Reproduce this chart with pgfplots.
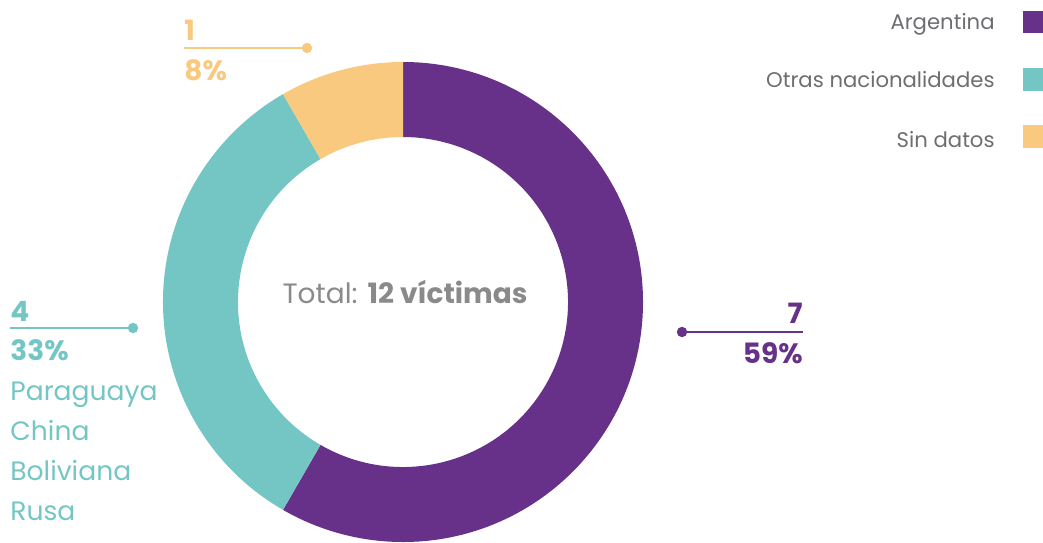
\documentclass[border=0pt]{standalone}
\usepackage{pgfplots}
\usepackage{pgfplotstable}
\pgfplotsset{compat=1.18}
\usepackage{fontspec}
\setmainfont{Poppins}
\definecolor{cpurple}{HTML}{673089}
\definecolor{cteal}{HTML}{74C6C5}
\definecolor{cyellow}{HTML}{F8C97E}
\definecolor{cgray}{HTML}{6D6E71}
\definecolor{cgraytwo}{HTML}{8A8A8A}

\pgfplotstableread{
label value
Argentina 7
Otras 4
SinDatos 1
}\datatable

\begin{document}
\begin{tikzpicture}
\pgfplotstablegetelem{0}{value}\of\datatable \pgfmathsetmacro\va{\pgfplotsretval}
\pgfplotstablegetelem{1}{value}\of\datatable \pgfmathsetmacro\vb{\pgfplotsretval}
\pgfplotstablegetelem{2}{value}\of\datatable \pgfmathsetmacro\vc{\pgfplotsretval}
\pgfmathsetmacro\tot{\va+\vb+\vc}
\pgfmathsetmacro\aA{90-360*\va/\tot}
\pgfmathsetmacro\aB{\aA-360*\vb/\tot}
\pgfmathsetmacro\aC{\aB-360*\vc/\tot}
\begin{axis}[hide axis, scale only axis, width=521.5pt, height=271pt,
  xmin=0, xmax=1043, ymin=0, ymax=542, y dir=reverse, clip=false]
\path (axis cs:0,0) rectangle (axis cs:1043,542);
\coordinate (c) at (axis cs:403,302);
% donut segments
\fill[cpurple] (c) ++(90:120pt) arc[start angle=90, end angle=\aA, radius=120pt]
  -- ++(\aA:-37.5pt) arc[start angle=\aA, end angle=90, radius=82.5pt] -- cycle;
\fill[cteal] (c) ++(\aA:120pt) arc[start angle=\aA, end angle=\aB, radius=120pt]
  -- ++(\aB:-37.5pt) arc[start angle=\aB, end angle=\aA, radius=82.5pt] -- cycle;
\fill[cyellow] (c) ++(\aB:120pt) arc[start angle=\aB, end angle=\aC, radius=120pt]
  -- ++(\aC:-37.5pt) arc[start angle=\aC, end angle=\aB, radius=82.5pt] -- cycle;
% center text
\node[anchor=base, text=cgraytwo, font=\fontsize{14}{16}\selectfont, inner sep=0pt] at (axis cs:405,303) {Total: \textbf{12 víctimas}};
% yellow label
\node[anchor=base west, text=cyellow, font=\fontsize{14}{16}\selectfont\bfseries, inner sep=0pt] at (axis cs:184,40) {1};
\draw[cyellow, line width=0.8pt] (axis cs:184,48) -- (axis cs:307,48);
\fill[cyellow] (axis cs:307,48) circle[radius=2.6pt];
\node[anchor=base west, text=cyellow, font=\fontsize{14}{16}\selectfont\bfseries, inner sep=0pt] at (axis cs:184,80) {8\%};
% teal label
\node[anchor=base west, text=cteal, font=\fontsize{14}{16}\selectfont\bfseries, inner sep=0pt] at (axis cs:10,321) {4};
\draw[cteal, line width=0.8pt] (axis cs:10,328) -- (axis cs:133,328);
\fill[cteal] (axis cs:133,328) circle[radius=2.6pt];
\node[anchor=base west, text=cteal, font=\fontsize{14}{16}\selectfont\bfseries, inner sep=0pt] at (axis cs:10,360) {33\%};
\node[anchor=base west, text=cteal, font=\fontsize{13.3}{16}\selectfont, inner sep=0pt] at (axis cs:10,400) {Paraguaya};
\node[anchor=base west, text=cteal, font=\fontsize{13.3}{16}\selectfont, inner sep=0pt] at (axis cs:10,440) {China};
\node[anchor=base west, text=cteal, font=\fontsize{13.3}{16}\selectfont, inner sep=0pt] at (axis cs:10,480) {Boliviana};
\node[anchor=base west, text=cteal, font=\fontsize{13.3}{16}\selectfont, inner sep=0pt] at (axis cs:10,520) {Rusa};
% purple label
\node[anchor=base east, text=cpurple, font=\fontsize{14}{16}\selectfont\bfseries, inner sep=0pt] at (axis cs:803,323) {7};
\draw[cpurple, line width=0.8pt] (axis cs:682,332) -- (axis cs:803,332);
\fill[cpurple] (axis cs:682,332) circle[radius=2.6pt];
\node[anchor=base east, text=cpurple, font=\fontsize{14}{16}\selectfont\bfseries, inner sep=0pt] at (axis cs:803,363) {59\%};
% legend
\fill[cpurple] (axis cs:1023,11) rectangle (axis cs:1043,33);
\fill[cteal] (axis cs:1023,68) rectangle (axis cs:1043,91);
\fill[cyellow] (axis cs:1023,125) rectangle (axis cs:1043,148);
\node[anchor=base east, text=cgray, font=\fontsize{10.6}{13}\selectfont, inner sep=0pt] at (axis cs:995,29) {Argentina};
\node[anchor=base east, text=cgray, font=\fontsize{10.6}{13}\selectfont, inner sep=0pt] at (axis cs:995,87) {Otras nacionalidades};
\node[anchor=base east, text=cgray, font=\fontsize{10.6}{13}\selectfont, inner sep=0pt] at (axis cs:995,147) {Sin datos};
\end{axis}
\end{tikzpicture}
\end{document}
